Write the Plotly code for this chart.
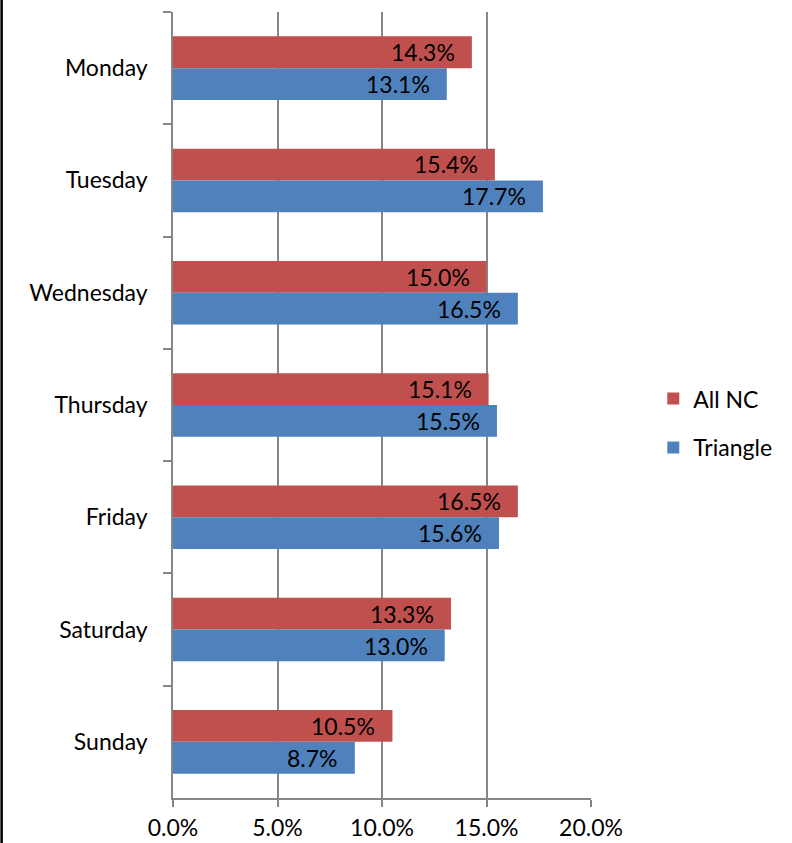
import plotly.graph_objects as go

days = ["Monday", "Tuesday", "Wednesday", "Thursday", "Friday", "Saturday", "Sunday"]
all_nc = [14.3, 15.4, 15.0, 15.1, 16.5, 13.3, 10.5]
triangle = [13.1, 17.7, 16.5, 15.5, 15.6, 13.0, 8.7]
x_ticks = [0, 5, 10, 15, 20]
x_tick_labels = ["0.0%", "5.0%", "10.0%", "15.0%", "20.0%"]

RED = "#C0504D"
BLUE = "#4F81BD"
AXIS = "#868686"
FONT = "Lato, Calibri, Carlito, sans-serif"
FS = 23

fig = go.Figure()
fig.add_trace(go.Bar(
    y=days, x=all_nc, orientation="h", name="All NC",
    marker=dict(color=RED, line=dict(width=0)),
    legendgroup="a",
))
fig.add_trace(go.Bar(
    y=days, x=triangle, orientation="h", name="Triangle",
    marker=dict(color=BLUE, line=dict(width=0)),
    legendgroup="b",
))

# value labels at the inner end of each bar
for series, shift in ((all_nc, 16), (triangle, -16)):
    for d, v in zip(days, series):
        fig.add_annotation(
            x=v, y=d, xref="x", yref="y", text=f"{v:.1f}%",
            showarrow=False, xanchor="right", yanchor="middle",
            xshift=-15, yshift=shift,
            font=dict(family=FONT, size=FS, color="black"),
        )

# frame edge on the left side of the chart area
fig.add_shape(type="line", xref="paper", yref="paper",
              x0=-0.41, x1=-0.41, y0=-0.1, y1=1.1,
              line=dict(color="black", width=2.5))

fig.update_layout(
    width=792, height=843,
    margin=dict(l=173, r=201, t=12, b=45),
    paper_bgcolor="white", plot_bgcolor="white",
    barmode="group", bargap=0.434, bargroupgap=0,
    font=dict(family=FONT, size=FS, color="black"),
    showlegend=True,
    legend=dict(
        x=1.149, y=0.477, xanchor="left", yanchor="middle",
        traceorder="grouped", tracegroupgap=16,
        font=dict(family=FONT, size=FS, color="black"),
        bgcolor="rgba(0,0,0,0)",
    ),
    xaxis=dict(
        range=[0, 20], tickvals=x_ticks, ticktext=x_tick_labels,
        showgrid=True, gridcolor=AXIS, gridwidth=1.5,
        showline=True, linecolor=AXIS, linewidth=1.5,
        ticks="outside", ticklen=7, tickcolor=AXIS, tickwidth=1.5,
        zeroline=False, ticklabelstandoff=2, automargin=False,
        tickfont=dict(family=FONT, size=FS, color="black"),
    ),
    yaxis=dict(
        autorange="reversed", type="category",
        showline=True, linecolor=AXIS, linewidth=1.5,
        ticks="outside", tickson="boundaries", ticklen=8,
        tickcolor=AXIS, tickwidth=1.5, automargin=False,
        showgrid=False, ticklabelstandoff=19,
        tickfont=dict(family=FONT, size=FS, color="black"),
    ),
)

fig.write_html("out.html")
